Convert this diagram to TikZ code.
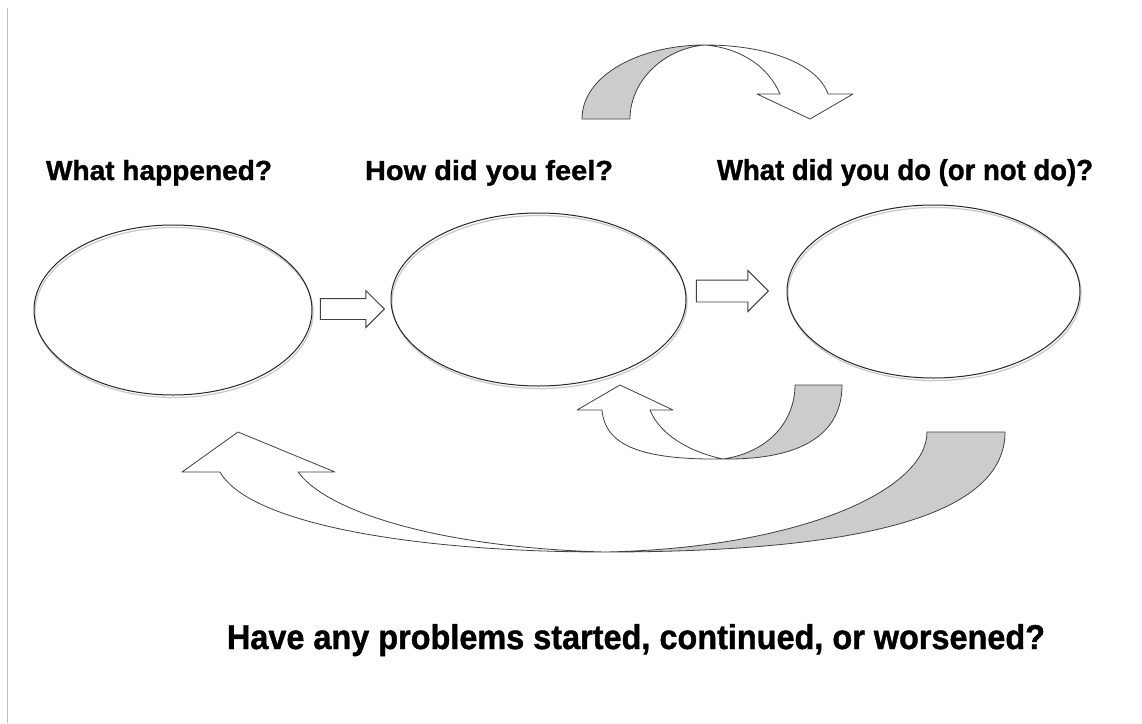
\documentclass[tikz,border=0pt]{standalone}
\usepackage{fontspec}
\setmainfont{Liberation Sans}
\newfontfamily\heavyfont[FakeBold=1.2]{Liberation Sans}
\usetikzlibrary{shapes.geometric, shapes.arrows, positioning}

% question text squeezed to the width and height it has in the sheet
\newcommand{\askfit}[3]{\resizebox{#1}{#2}{\heavyfont\bfseries #3}}

\begin{document}
\begin{tikzpicture}[
    x=1pt, y=-1pt,
    bubble/.style={ellipse, draw=black!85, line width=1pt, inner sep=0pt},
    halo/.style={ellipse, draw=black!22, line width=1.2pt, inner sep=0pt},
    question/.style={anchor=base, inner sep=0pt},
    fatarrow/.style={single arrow, draw=black!75, line width=0.9pt, fill=white, inner xsep=0pt, anchor=tip},
    band/.style={draw=black!75, line width=0.8pt, line join=round, fill=white},
    twist/.style={band, fill=black!20}
]
    \useasboundingbox (0,0) rectangle (1142,723);
    \draw[black!25, line width=1pt] (7,8) -- (7,723);

    % Questions
    \node[question] (qhappened) at (159,180) {\askfit{226pt}{20pt}{What happened?}};
    \node[question] (qfeel) at (489,180) {\askfit{248pt}{20pt}{How did you feel?}};
    \node[question] (qdo) at (905,180) {\askfit{376pt}{21pt}{What did you do (or not do)?}};

    % Ellipses
    \node[halo, minimum width=278pt, minimum height=170pt] (happenedhalo) at (174,312.5) {};
    \node[halo, minimum width=295pt, minimum height=173pt] (feelhalo) at (539.5,302) {};
    \node[halo, minimum width=293pt, minimum height=173pt] (dohalo) at (934.5,294) {};
    \node[bubble, minimum width=278pt, minimum height=170pt] (happened) at (173,310) {};
    \node[bubble, minimum width=295pt, minimum height=173pt] (feel) at (538.5,299.5) {};
    \node[bubble, minimum width=293pt, minimum height=173pt] (do) at (933.5,291.5) {};

    % Block arrows
    \node[fatarrow, minimum height=64pt, inner ysep=10pt, single arrow head extend=8pt] (push1) at (385,309) {};
    \node[fatarrow, minimum height=72pt, inner ysep=10.5pt, single arrow head extend=9.5pt] (push2) at (769,291) {};

    % Top curved arrow
    \draw[twist] (582,119) .. controls (582,75) and (640,45) .. (705,45)
        .. controls (665,48) and (630,80) .. (630,119) -- cycle;
    \draw[band] (705,45) .. controls (770,45) and (818,65) .. (828,94)
        -- (853,94) -- (810,119) -- (757,94) -- (780,94)
        .. controls (768,66) and (740,48) .. (705,45) -- cycle;

    % Small lower curved arrow
    \draw[twist] (723,459) .. controls (805,460) and (842,432) .. (842,385)
        -- (795,385) .. controls (795,420) and (770,452) .. (723,459) -- cycle;
    \draw[band] (723,459) .. controls (640,460) and (605,445) .. (602,410)
        -- (577,410) -- (620,385) -- (673,410) -- (650,410)
        .. controls (660,435) and (690,452) .. (723,459) -- cycle;

    % Big lower curved arrow
    \draw[twist] (605,552) .. controls (880,552) and (1005,510) .. (1005,432)
        -- (927,432) .. controls (927,490) and (800,548) .. (605,552) -- cycle;
    \draw[band] (605,552) .. controls (420,552) and (250,525) .. (220,472)
        -- (182,472) -- (238,432) -- (335,472) -- (298,472)
        .. controls (330,515) and (450,548) .. (605,552) -- cycle;

    % Bottom question
    \node[question] (qproblems) at (636,649) {\askfit{818pt}{25pt}{Have any problems started, continued, or worsened?}};
\end{tikzpicture}
\end{document}
